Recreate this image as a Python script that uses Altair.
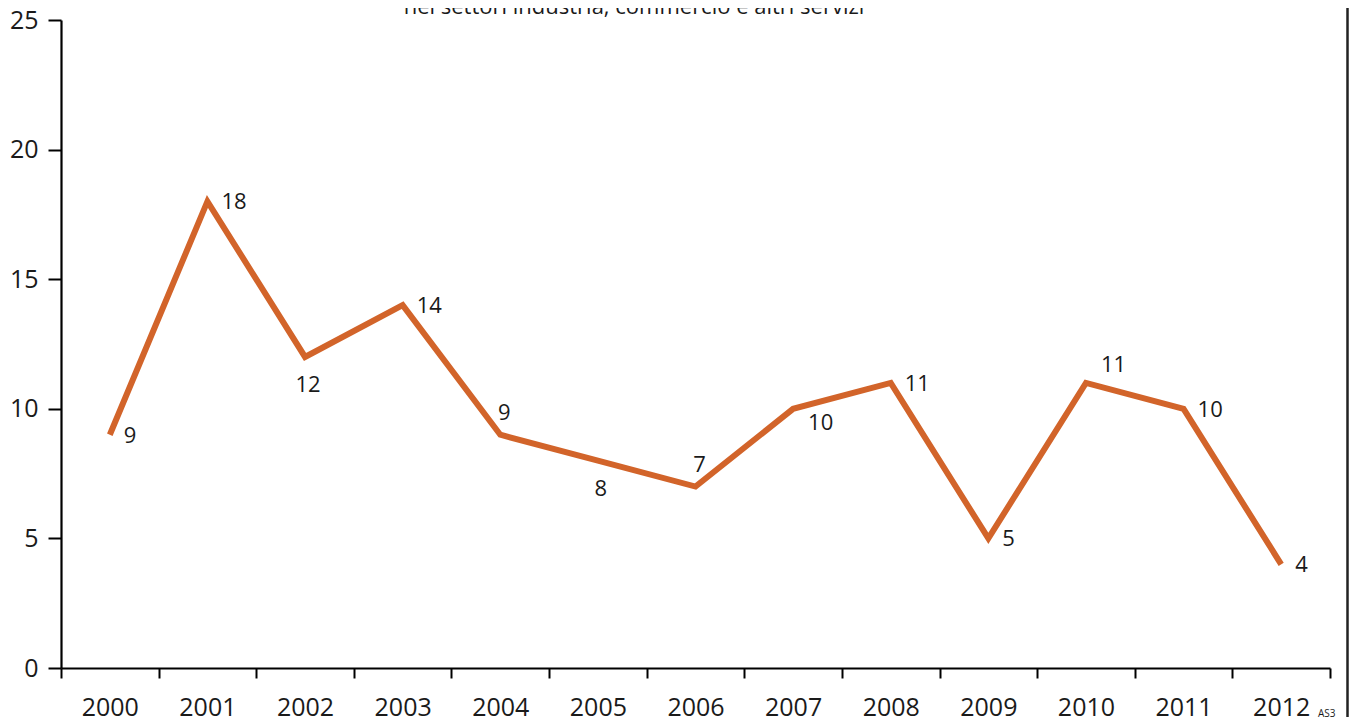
import altair as alt
import pandas as pd

years = ["2000", "2001", "2002", "2003", "2004", "2005", "2006",
         "2007", "2008", "2009", "2010", "2011", "2012"]
values = [9, 18, 12, 14, 9, 8, 7, 10, 11, 5, 11, 10, 4]
placement = ["r", "r", "b", "r", "a", "b", "a", "rb", "r", "r", "ra", "r", "r"]
title_text = "nei settori industria, commercio e altri servizi"
y_ticks = [0, 5, 10, 15, 20, 25]

df = pd.DataFrame({"year": years, "value": values, "pos": placement})

FONT = "Open Sans"
LINE_COLOR = "#D2642A"
W, H = 1269, 648

x = alt.X("year:N", sort=years,
          scale=alt.Scale(paddingInner=0, paddingOuter=0),
          axis=alt.Axis(title=None, labelAngle=0, tickBand="extent",
                        labelFontSize=25, labelFont=FONT, labelColor="#1a1a1a",
                        domainColor="#000", domainWidth=2.2,
                        tickColor="#000", tickWidth=2, tickSize=10,
                        labelPadding=17, grid=False))
y = alt.Y("value:Q",
          scale=alt.Scale(domain=[0, 25], nice=False),
          axis=alt.Axis(title=None, values=y_ticks, labelFontSize=25,
                        labelFont=FONT, labelColor="#1a1a1a",
                        domainColor="#000", domainWidth=2.2,
                        tickColor="#000", tickWidth=2, tickSize=13,
                        labelPadding=10, grid=False))

base = alt.Chart(df)

line = base.mark_line(color=LINE_COLOR, strokeWidth=6,
                      strokeJoin="miter").encode(x=x, y=y)

def labels(pos, **kw):
    return base.transform_filter(alt.datum.pos == pos).mark_text(
        font=FONT, fontSize=22, color="#1a1a1a", **kw
    ).encode(x=alt.X("year:N", sort=years), y="value:Q",
             text="value:Q")

lab_r = labels("r", align="left", baseline="middle", dx=14, dy=1)
lab_b = labels("b", align="center", baseline="middle", dx=3, dy=28)
lab_a = labels("a", align="center", baseline="middle", dx=4, dy=-22)
lab_rb = labels("rb", align="left", baseline="middle", dx=15, dy=14)
lab_ra = labels("ra", align="left", baseline="middle", dx=15, dy=-18)

title = alt.Chart(pd.DataFrame({"t": [title_text]})).mark_text(
    font=FONT, fontSize=22, color="#1a1a1a", align="center",
    baseline="alphabetic"
).encode(x=alt.value(634 - 61), y=alt.value(-6), text="t:N")

note = alt.Chart(pd.DataFrame({"t": ["AS3"]})).mark_text(
    font=FONT, fontSize=10, color="#1a1a1a", align="left",
    baseline="alphabetic"
).encode(x=alt.value(1318 - 61), y=alt.value(717 - 20), text="t:N")

frame = alt.Chart(pd.DataFrame({"a": [0]})).mark_rule(
    color="#222", strokeWidth=2.5
).encode(x=alt.value(1347.5 - 61), y=alt.value(-20), y2=alt.value(717 - 20))

chart = alt.layer(line, lab_r, lab_b, lab_a, lab_rb, lab_ra, title, note, frame).properties(
    width=W, height=H,
    autosize=alt.AutoSizeParams(type="none"),
    padding={"left": 53, "top": 12, "right": 19, "bottom": 51},
).configure(background="white").configure_view(stroke=None)

chart.save("out.html", embed_options={"renderer": "svg", "actions": False})
